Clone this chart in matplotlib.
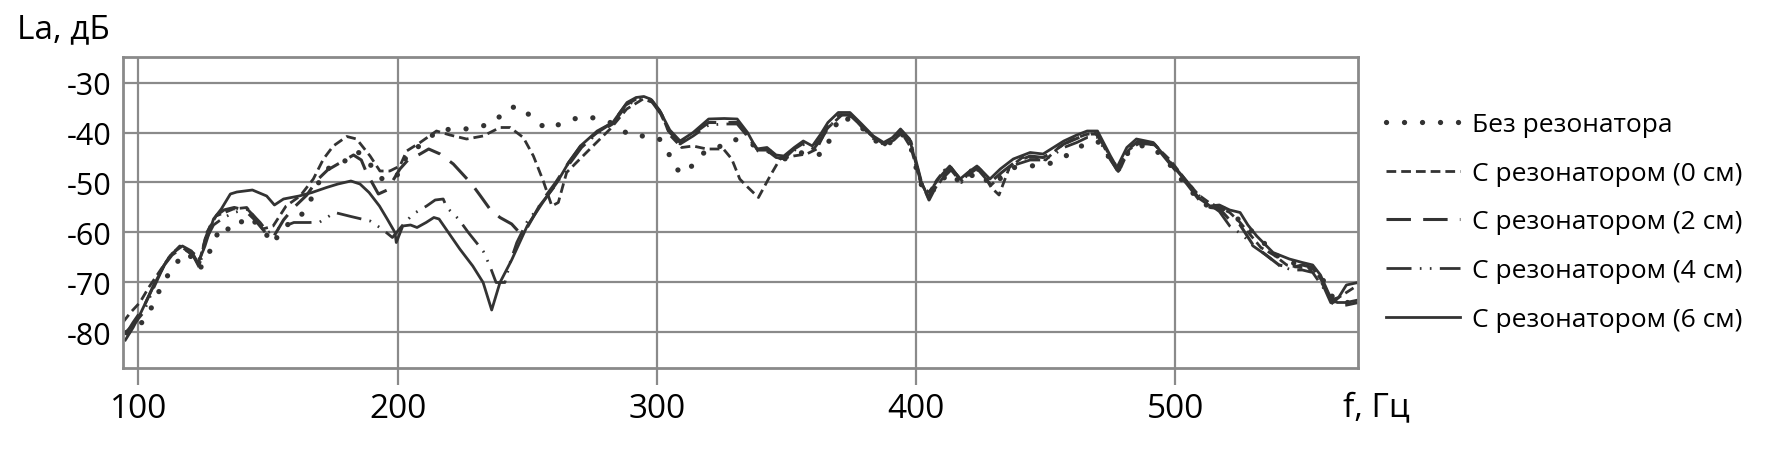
import matplotlib
matplotlib.use('Agg')
import matplotlib.pyplot as plt

plt.rcParams['font.family'] = ['Open Sans', 'DejaVu Sans']
plt.rcParams['axes.unicode_minus'] = False

# --- data: frequency (Hz) and level (dB) per series ---
f_none = [95.5, 99, 103, 108.4, 113.4, 118.7, 121.5, 123.8, 126, 128.9, 131.5, 136.6, 141.8, 147, 152, 156, 160,
          165, 168.8, 172.7, 179, 184, 188, 192, 195.8, 199.7, 203.5, 210, 216.4, 223, 230.5, 235.6, 239, 242,
          246.6, 249.8, 253.7, 258, 262.7, 267.8, 273, 277.4, 282, 285.8, 290.3, 296.7, 301, 303.8, 307, 310,
          313.5, 316, 320, 325, 329.5, 336, 342.4, 346, 350, 355.2, 360, 364.2, 366.8, 370.6, 374.5, 379, 384,
          388, 391, 394, 397.5, 401.5, 404.7, 407, 410, 413, 417, 420, 424, 429, 433, 438, 444, 449, 453, 457,
          461.4, 467.8, 471, 475, 478, 481, 485, 491.5, 498, 504, 510, 514, 518, 522, 526, 530, 535, 540, 545,
          550, 554, 557, 560, 563, 566, 570.5]
L_none = [-80, -79, -77.3, -71.3, -66.7, -64, -65.5, -67.3, -65, -62.7, -58.7, -59.7, -56.7, -58.7, -62.3, -58.7, -58,
          -55.3, -50.7, -47.3, -46, -43.7, -45, -48.7, -49.7, -48.7, -44.7, -42, -39.3, -39.5, -39, -38.3, -37, -35.3,
          -34.7, -36, -38, -39.3, -38.3, -37.3, -36.8, -37.3, -38, -39.3, -40.7, -40.7, -41.3, -43.3, -47, -48.3,
          -46.7, -45, -43.3, -42.7, -41.3, -42.3, -43.3, -45, -45.3, -44, -44.5, -44.3, -41.3, -36.7, -37.5, -39, -41.5,
          -43, -41.5, -40, -42, -50, -52.5, -51, -49.5, -48, -50, -49, -48, -50.5, -49, -47, -46.7, -46.5, -46, -45,
          -43.3, -41.7, -42, -45.5, -47.5, -44.5, -42.5, -43, -46.5, -50.5, -54, -55, -55, -56.5, -58, -60, -62.5, -65, -66,
          -67, -67.5, -69.5, -72.5, -74, -74, -74]

f_0cm = [94, 97, 100.6, 104, 107, 112.2, 116, 121, 123.8, 126.4, 130, 136.6, 141.8, 145, 148, 152, 157, 162.4,
         167.5, 171.4, 175.2, 180.4, 184.2, 189.4, 193.2, 197, 200.9, 203.5, 208.7, 215, 220.2, 226.6, 233, 239.5,
         243.4, 248.5, 252.4, 256.2, 259.5, 262, 265.2, 269, 274.2, 282, 288.4, 294.7, 298.6, 302, 305, 309.6, 314,
         319.3, 325.7, 328.9, 332, 334.6, 339.2, 343.7, 347.5, 352.7, 357.8, 361.7, 365.5, 372, 376, 380, 384, 388,
         392, 395, 398, 402, 405, 408, 411, 414, 418, 421, 425, 429, 432, 436, 441, 446, 450, 455, 460, 465, 469,
         473, 476, 479, 482, 486, 492, 498, 504, 509, 513, 517, 521, 525, 529, 533, 538, 543, 548, 553, 557, 560,
         563, 566, 570.5]
L_0cm = [-78, -76, -74, -71, -68.7, -64.7, -62.7, -64, -65.3, -60, -56.7, -55.3, -55, -57, -59.3, -58.7, -54.7, -52.7,
         -49.3, -45.3, -42.7, -40.8, -41.3, -44.7, -47.7, -47.7, -46.7, -43.7, -42, -39.7, -40.5, -41.3, -40.7, -39,
         -39, -41, -44.7, -49.7, -54.7, -54, -48, -46, -43.3, -39.3, -35.3, -33.3, -34, -36.5, -40.5, -43, -42.7,
         -43.3, -43.3, -45.3, -49.3, -50.7, -53, -48.7, -45.3, -44.7, -44.3, -43.3, -39.3, -36.2, -37, -39.5, -41, -42.5,
         -40.5, -40.5, -43, -50.5, -52, -49.5, -47.5, -47.5, -49.8, -47.5, -47.5, -51, -52.5, -47, -45, -45, -45.5, -43,
         -41.5, -40.5, -40, -43, -46, -47, -43.5, -42, -42.5, -45.5, -49.5, -52.5, -54, -55, -56, -58, -60.5, -63, -64.5,
         -66.5, -67, -67, -70, -73.5, -73, -72, -70.5]

f_2cm = [95, 98, 102, 106, 110, 113, 117, 121, 123.5, 126, 129, 133, 137, 141, 145, 149, 152, 156, 160, 165, 169,
         173, 178, 183, 186, 188, 192.6, 196, 200.9, 204, 208.7, 212, 216.4, 221.5, 228.6, 232, 235.6, 239.5, 244,
         247, 250, 256, 261, 266, 271, 277, 283, 288, 292, 295, 298, 301.5, 305, 309, 314, 320, 326, 331, 335, 339,
         343, 346, 349.5, 353, 357, 360.5, 363.5, 366.5, 370.5, 375, 379.5, 384, 388, 391.5, 394.5, 398, 402, 405,
         407.5, 410, 413.5, 417.5, 420.5, 424, 429, 433, 438, 444, 449, 453, 457, 462, 466, 470, 475, 477.5, 481.5,
         485.5, 492, 498, 504.5, 509.5, 513.5, 517, 521, 525, 530, 535, 540, 545, 549, 553, 557, 560, 562.5, 566,
         570.5]
L_2cm = [-80.5, -78, -75, -70.5, -66.5, -64.5, -63, -64.5, -66.5, -61, -57, -55.5, -55, -55.5, -57.5, -60, -61, -57.5,
         -55, -52.5, -49.5, -47.5, -46, -44.5, -45.5, -48, -52.3, -51.5, -47.3, -45.5, -44.3, -43.3, -44.3, -46.3, -50.3,
         -52.7, -55.3, -57, -58.3, -60, -59, -53.5, -50, -46, -42.5, -40, -38, -34.5, -33.3, -33, -33.5, -36, -40, -42,
         -40.3, -38, -38, -38, -40.5, -43.5, -43.5, -44.8, -45, -43.3, -42, -43, -41, -38.5, -36.5, -36.5, -38.8, -41.2,
         -42.3, -41.3, -39.8, -41.8, -49.8, -53.5, -51, -49, -47, -49.7, -48.3, -47, -49.8, -48, -46, -44.7, -45, -43.8,
         -42.3, -41.2, -40.3, -40.3, -45.3, -47.5, -43.5, -41.8, -42.5, -46.3, -50.3, -53.7, -55, -55.2, -57.5, -58.5,
         -62.5, -64.5, -66.5, -67, -66.5, -67, -70.5, -74, -74.5, -74.5, -74]

f_4cm = [95, 98, 102, 106, 110, 113, 117, 121, 123.5, 126, 129, 133, 137, 142, 147, 150, 155, 160, 166, 170,
         175.8, 182, 189.4, 194, 198, 202, 206, 211.2, 214.5, 217.6, 219, 223.5, 227.3, 233, 235.6, 238, 241.4,
         243.4, 246, 249.8, 255, 261, 266, 271, 277, 283, 288, 292, 295, 298, 301.5, 305, 309, 314, 320, 326, 331,
         335, 339, 343, 346, 349.5, 353, 357, 360.5, 363.5, 366.5, 370.5, 375, 379.5, 384, 388, 391.5, 394.5, 398,
         402, 405, 407.5, 410, 413.5, 417.5, 420.5, 424, 429, 433, 438, 444, 449, 453, 457, 462, 466, 470, 475, 478,
         481.5, 485.5, 492, 498, 504.5, 509.5, 513.5, 517, 521, 526, 530, 535, 540.4, 545, 549, 553, 557, 560,
         562.5, 566, 570.5]
L_4cm = [-80, -78.5, -76, -71, -66.5, -64, -63, -64.5, -67, -61.5, -58.5, -57, -56, -55.3, -58, -60, -59, -58, -58,
         -57.9, -56, -56.8, -57.7, -59.3, -61, -58.5, -56.3, -54.7, -53.5, -53.3, -55, -57.3, -60, -63.7, -66.7, -70,
         -70, -66, -62, -58, -54.5, -50.5, -46.5, -43, -40.2, -38.3, -34.8, -33.5, -33.2, -33.8, -36.3, -40.2, -42.3,
         -40.7, -38.5, -38.3, -38.3, -40.8, -43.7, -43.8, -45, -45.3, -43.6, -42.3, -43.3, -41.3, -38.8, -36.8, -36.8,
         -39, -41.5, -42.5, -41.5, -40, -42, -50, -53.2, -51.3, -49.3, -47.5, -50, -48.5, -47.5, -50.5, -48.5, -46.5,
         -45.5, -45.5, -44.5, -43, -42, -41, -41, -45.5, -47.8, -44, -42.3, -42.3, -45.8, -49.8, -52.8, -54.5, -55.8,
         -58.7, -60.5, -62.7, -64.5, -66.7, -67.5, -67.5, -68, -71, -73.5, -74, -74, -73.5]

f_6cm = [95, 98, 101, 106, 110, 113, 117, 120.5, 123, 125.7, 129, 132, 135.5, 138, 144, 149.5, 152.5, 156, 162,
         167, 172.6, 177, 182, 185.5, 189, 193, 196, 199, 199.5, 202, 205, 207.5, 211, 214, 216, 220, 224, 229, 233,
         236.3, 239.5, 244, 250, 256, 261.5, 266, 270.5, 277, 283, 288.5, 292, 295, 297.5, 301, 305, 309, 314, 320,
         326, 331, 335, 338.5, 342.5, 346, 349, 353, 356.5, 360, 363, 366, 370, 374.5, 379, 383.5, 387.5, 391, 394,
         397.5, 401.5, 404.7, 407, 409.5, 413, 417, 420, 423.5, 428.5, 432.5, 437.5, 444, 449, 453, 457, 462, 466,
         470, 475, 477.5, 481.3, 485, 491.5, 498, 504.4, 509.5, 513.4, 517, 521, 525, 528, 531.4, 537.7, 544, 549,
         553, 556, 559, 561, 563, 566, 570.5]
L_6cm = [-81.5, -79, -76, -70.5, -66.5, -64.2, -62.7, -63.7, -66.2, -62.7, -57.3, -55.3, -52.3, -51.9, -51.5, -52.7,
         -54.5, -53.3, -52.7, -52, -51, -50.3, -49.7, -50.3, -52, -54.7, -57.3, -60, -62, -58.7, -58.5, -59, -58, -57,
         -57.3, -60.3, -63.3, -66.7, -70, -75.5, -70, -65.5, -58.7, -54, -50, -46, -42.7, -39.7, -38, -34, -33, -32.8,
         -33.3, -35.5, -39.5, -41.7, -40, -37.3, -37.2, -37.3, -40, -43.3, -43, -44.5, -44.7, -43, -41.7, -42.7, -40.5,
         -38, -36, -36, -38.3, -40.7, -42, -41, -39.3, -41.3, -49.3, -53, -50.5, -48.7, -46.7, -49.3, -48, -46.7, -49.3,
         -47.3, -45.3, -44, -44.3, -43, -41.7, -40.5, -39.7, -39.7, -44.7, -47, -43, -41.3, -42, -46, -50, -53.3, -54.7,
         -54.5, -55.5, -56, -58.5, -60.7, -64, -65.3, -66, -66.5, -68.5, -72, -74, -73, -70.5, -70]

labels = ['Без резонатора', 'С резонатором (0 см)', 'С резонатором (2 см)',
          'С резонатором (4 см)', 'С резонатором (6 см)']

x_ticks = [100, 200, 300, 400, 500]
y_ticks = [-30, -40, -50, -60, -70, -80]

line_color = '#333333'
grid_color = '#8a8a8a'

fig = plt.figure(figsize=(17.82, 4.56), dpi=100)
ax = fig.add_axes([0.0689, 0.1908, 0.6932, 0.682])

series = [
    (f_none, L_none, dict(linestyle=(0, (0.01, 3.4)), lw=3.8, dash_capstyle='round')),
    (f_0cm, L_0cm, dict(linestyle=(0, (3.5, 1.8)), lw=2.0)),
    (f_2cm, L_2cm, dict(linestyle=(0, (8, 4)), lw=2.2)),
    (f_4cm, L_4cm, dict(linestyle=(0, (9, 3, 0.6, 3, 0.6, 3)), lw=2.0)),
    (f_6cm, L_6cm, dict(linestyle='-', lw=2.0)),
]
for (xs, ys, style), lab in zip(series, labels):
    ax.plot(xs, ys, color=line_color, label=lab, **style)

ax.set_xlim(94, 570.5)
ax.set_ylim(-87.1, -24.9)
ax.set_xticks(x_ticks)
ax.set_yticks(y_ticks)
ax.grid(True, color=grid_color, lw=1.6)
ax.set_axisbelow(True)
for sp in ax.spines.values():
    sp.set_color(grid_color)
    sp.set_linewidth(2)
ax.tick_params(axis='x', direction='out', length=12, width=1.6, color=grid_color,
               labelsize=24, pad=5)
ax.tick_params(axis='y', length=0, labelsize=22, pad=8)

fig.text(17 / 1782, 1 - 30 / 456, 'La, дБ', fontsize=24, ha='left', va='center')
fig.text(1343 / 1782, 1 - 408 / 456, 'f, Гц', fontsize=24, ha='left', va='center')

ax.legend(loc='center left', bbox_to_anchor=(1386 / 1782, 1 - 223 / 456),
          bbox_transform=fig.transFigure, frameon=False, fontsize=19,
          handlelength=2.8, handletextpad=0.45, labelspacing=0.9,
          borderpad=0, borderaxespad=0)

fig.savefig('out.png', dpi=100)
